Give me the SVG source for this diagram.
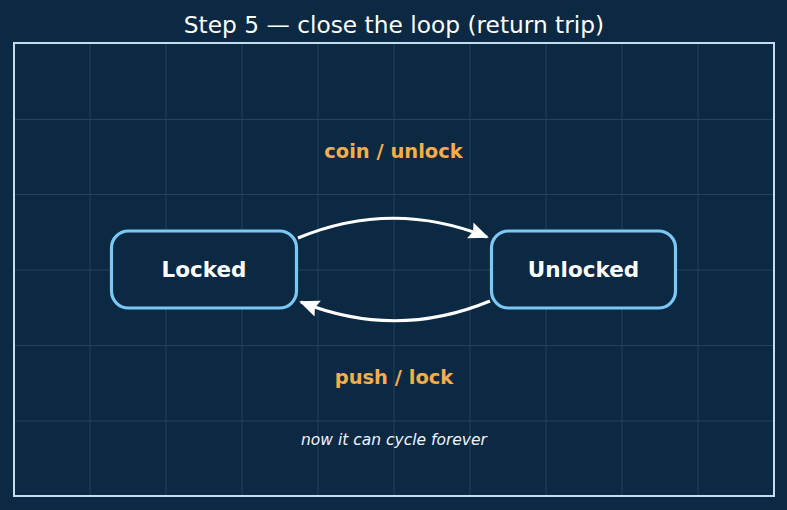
<svg xmlns="http://www.w3.org/2000/svg" width="787" height="510" viewBox="0 0 787 510">
<style>
.grid{stroke:#24435e;stroke-width:1}
.node{fill:#0b2942;stroke:#7cc8f5;stroke-width:3.2}
.nlabel{font-family:"DejaVu Sans",sans-serif;font-size:21.5px;font-weight:bold;fill:#ffffff;text-anchor:middle}
.elabel{font-family:"DejaVu Sans",sans-serif;font-size:19.5px;font-weight:bold;fill:#f6ad4b;text-anchor:middle}
.edge{fill:none;stroke:#ffffff;stroke-width:3}
</style>
<defs>
<marker id="ah" markerUnits="userSpaceOnUse" markerWidth="24" markerHeight="20" refX="18" refY="10" orient="auto">
<path d="M0,1.5 L20,10 L0,18.5 L3,10 Z" fill="#ffffff"/>
</marker>
</defs>
<rect width="787" height="510" fill="#0b2942"/>
<text x="394" y="33" font-family="DejaVu Sans,sans-serif" font-size="23.3" fill="#ffffff" text-anchor="middle">Step 5 — close the loop (return trip)</text>
<g id="grid">
<path class="grid" d="M90,44V495M166,44V495M242,44V495M318,44V495M394,44V495M470,44V495M546,44V495M622,44V495M698,44V495M15,119.5H773M15,194.5H773M15,270H773M15,345.5H773M15,421H773"/>
</g>
<rect x="14" y="43" width="760" height="453" fill="none" stroke="#c4dcee" stroke-width="2"/>
<g id="connectors">
<path class="edge" d="M298,238 Q392,199 487,237" marker-end="url(#ah)"/>
<path class="edge" d="M490,301 Q396,340 301,302" marker-end="url(#ah)"/>
</g>
<g id="labels">
<text class="elabel" x="393.5" y="158">coin / unlock</text>
<text class="elabel" x="394" y="384">push / lock</text>
<text x="394" y="444.5" font-family="DejaVu Sans,sans-serif" font-size="15.5" font-style="italic" fill="#eef6ff" text-anchor="middle">now it can cycle forever</text>
</g>
<g id="node-locked">
<rect class="node" x="111.5" y="231" width="185" height="77" rx="17"/>
<text class="nlabel" x="204" y="277">Locked</text>
</g>
<g id="node-unlocked">
<rect class="node" x="491.5" y="231" width="184" height="77" rx="17"/>
<text class="nlabel" x="583.5" y="277">Unlocked</text>
</g>
</svg>
